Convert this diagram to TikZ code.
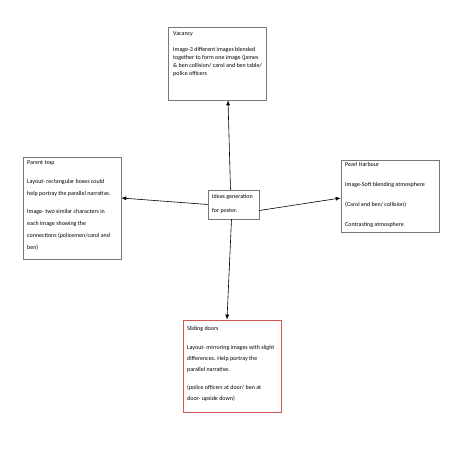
\documentclass[tikz,border=0pt]{standalone}
\usepackage{fontspec}
\setmainfont{Carlito}
\usetikzlibrary{arrows.meta}
\definecolor{boxgray}{RGB}{120,120,120}
\definecolor{boxred}{RGB}{214,86,86}
\begin{document}
\begin{tikzpicture}[x=1pt, y=-1pt, >={Latex[length=5pt,width=4pt]},
    box/.style={draw=boxgray, line width=0.6pt, inner sep=0pt},
    txt/.style={anchor=north west, inner sep=0pt, align=left, font=\fontsize{6}{7.8}\selectfont},
    arr/.style={->, line width=0.6pt}]

  % ================= 画布 =================
  \useasboundingbox[fill=white] (0,0) rectangle (452,452);

  % ================= 五个方框 =================
  \node[box, minimum width=51pt, minimum height=29pt] (ideas) at (233.5,204.5) {};
  \node[box, minimum width=98pt, minimum height=73pt] (vacancy) at (217,63.5) {};
  \node[box, minimum width=98pt, minimum height=102pt] (parent) at (72,208) {};
  \node[box, minimum width=98pt, minimum height=72pt] (pearl) at (390,196) {};
  \node[box, draw=boxred, line width=0.9pt, minimum width=98pt, minimum height=92pt] (sliding) at (232,366) {};

  % ================= 方框内文字 =================
  \node[txt, font=\fontsize{6}{14}\selectfont] (ideastext) at (212,194) {Ideas generation\\for poster.};
  \node[txt] (vactext) at (173,31) {Vacancy\\[9pt]Image-3 different images blended\\together to form one image (james\\\& ben collision/ carol and ben table/\\police officers};
  \node[txt, font=\fontsize{6}{12}\selectfont] (parenttext) at (27,160) {Parent trap\\[7pt]Layout- rectangular boxes could\\help portray the parallel narrative.\\[6pt]Image- two similar characters in\\each image showing the\\connections (policemen/carol and\\ben)};
  \node[txt, font=\fontsize{6}{20}\selectfont] (pearltext) at (345,162) {Pearl Harbour\\Image-Soft blending atmosphere\\(Carol and ben/ collision)\\Contrasting atmosphere};
  \node[txt, font=\fontsize{6}{11}\selectfont] (slidingtext) at (187,326) {Sliding doors\\[8pt]Layout- mirroring images with slight\\differences. Help portray the\\parallel narrative.\\[7pt](police officers at door/ ben at\\door- upside down)};

  % ================= 箭头 =================
  \draw[arr] ([xshift=-3pt]ideas.north) -- ([xshift=11pt]vacancy.south);
  \draw[arr] (ideas.west) -- ([yshift=10pt]parent.east);
  \draw[arr] ([yshift=-6pt]ideas.east) -- ([yshift=-2pt]pearl.west);
  \draw[arr] ([xshift=-2pt]ideas.south) -- ([xshift=-5pt]sliding.north);

\end{tikzpicture}
\end{document}
